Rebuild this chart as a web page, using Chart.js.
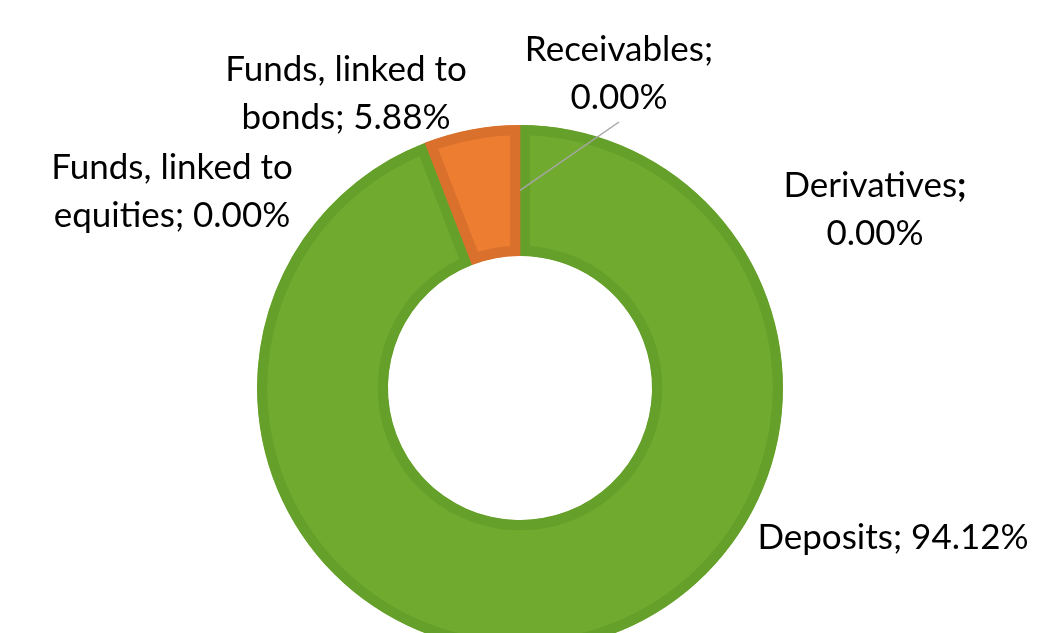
<!DOCTYPE html>
<html>
<head>
<meta charset="utf-8">
<script src="https://cdn.jsdelivr.net/npm/chart.js@4.4.1/dist/chart.umd.min.js"></script>
<style>
  html, body { margin: 0; padding: 0; background: #fff; overflow: hidden; }
  #wrap { position: absolute; left: 0; top: 0; width: 1051px; height: 776px; }
</style>
</head>
<body>
<div id="wrap"><canvas id="assets" width="1051" height="776"></canvas></div>
<script>
'use strict';

// Kategorien in Excel-Reihenfolge (im Uhrzeigersinn ab 12 Uhr)
const categories = [
  'Derivatives',
  'Deposits',
  'Funds, linked to equities',
  'Funds, linked to bonds',
  'Receivables',
];

// Anteile in %
const shares = [0, 94.12, 0, 5.88, 0];

// Beschriftungszeilen je Kategorie
const labelLines = [
  ['Derivatives;', '0.00%'],
  ['Deposits; 94.12%'],
  ['Funds, linked to', 'equities; 0.00%'],
  ['Funds, linked to', 'bonds; 5.88%'],
  ['Receivables;', '0.00%'],
];

const fillColors = ['#4472C4', '#70AB2F', '#A5A5A5', '#ED7D31', '#FFC000'];
const borderColors = ['#3B64AD', '#65A02A', '#959595', '#D9712C', '#E0A800'];

// Label-Mittelpunkte relativ zum Ringmittelpunkt (Layout)
const labelOffsets = [
  [355, -178],
  [373, 150],
  [-348, -196],
  [-174, -294],
  [99, -314],
];

const FONT = '35px Lato, "Open Sans", sans-serif';
const LINE_H = 48;

const labelPlugin = {
  id: 'donutLabels',
  afterDatasetsDraw(chart) {
    const { ctx } = chart;
    const meta = chart.getDatasetMeta(0);
    const arc0 = meta.data[0];
    const cx = arc0.x;
    const cy = arc0.y;
    ctx.save();
    ctx.fillStyle = '#000';
    ctx.textAlign = 'center';
    ctx.textBaseline = 'middle';
    ctx.font = FONT;

    labelLines.forEach((lines, i) => {
      const [ox, oy] = labelOffsets[i];
      const x = cx + ox;
      const top = cy + oy - ((lines.length - 1) * LINE_H) / 2;
      lines.forEach((line, j) => {
        const y = top + j * LINE_H;
        if (i === 0 && j === 0) {
          // Semikolon fett wie im Original
          const base = 'Derivatives';
          ctx.font = FONT;
          const w1 = ctx.measureText(base).width;
          ctx.font = 'bold ' + FONT;
          const w2 = ctx.measureText(';').width;
          const start = x - (w1 + w2) / 2;
          ctx.textAlign = 'left';
          ctx.font = FONT;
          ctx.fillText(base, start, y);
          ctx.font = 'bold ' + FONT;
          ctx.fillText(';', start + w1, y);
          ctx.font = FONT;
          ctx.textAlign = 'center';
        } else {
          ctx.fillText(line, x, y);
        }
      });
    });

    // Führungslinie zu Receivables
    const rec = meta.data[4];
    const props = rec.getProps(['startAngle', 'endAngle', 'innerRadius', 'outerRadius']);
    const ang = (props.startAngle + props.endAngle) / 2;
    const r = (props.innerRadius + props.outerRadius) / 2;
    const ex = cx + Math.cos(ang) * r;
    const ey = cy + Math.sin(ang) * r;
    ctx.strokeStyle = '#A6A6A6';
    ctx.lineWidth = 1.5;
    ctx.beginPath();
    ctx.moveTo(cx + 99, cy - 266);
    ctx.lineTo(ex, ey);
    ctx.stroke();
    ctx.restore();
  },
};

new Chart(document.getElementById('assets').getContext('2d'), {
  type: 'doughnut',
  data: {
    labels: categories,
    datasets: [
      {
        data: shares,
        backgroundColor: fillColors,
        borderColor: borderColors,
        borderWidth: 10,
        borderAlign: 'inner',
        borderJoinStyle: 'miter',
      },
    ],
  },
  options: {
    responsive: false,
    animation: false,
    devicePixelRatio: 1,
    radius: 263,
    cutout: '50.2%',
    layout: { padding: { left: 0, right: 11, top: 0, bottom: 0 } },
    plugins: {
      legend: { display: false },
      tooltip: { enabled: false },
    },
  },
  plugins: [labelPlugin],
});
</script>
</body>
</html>
